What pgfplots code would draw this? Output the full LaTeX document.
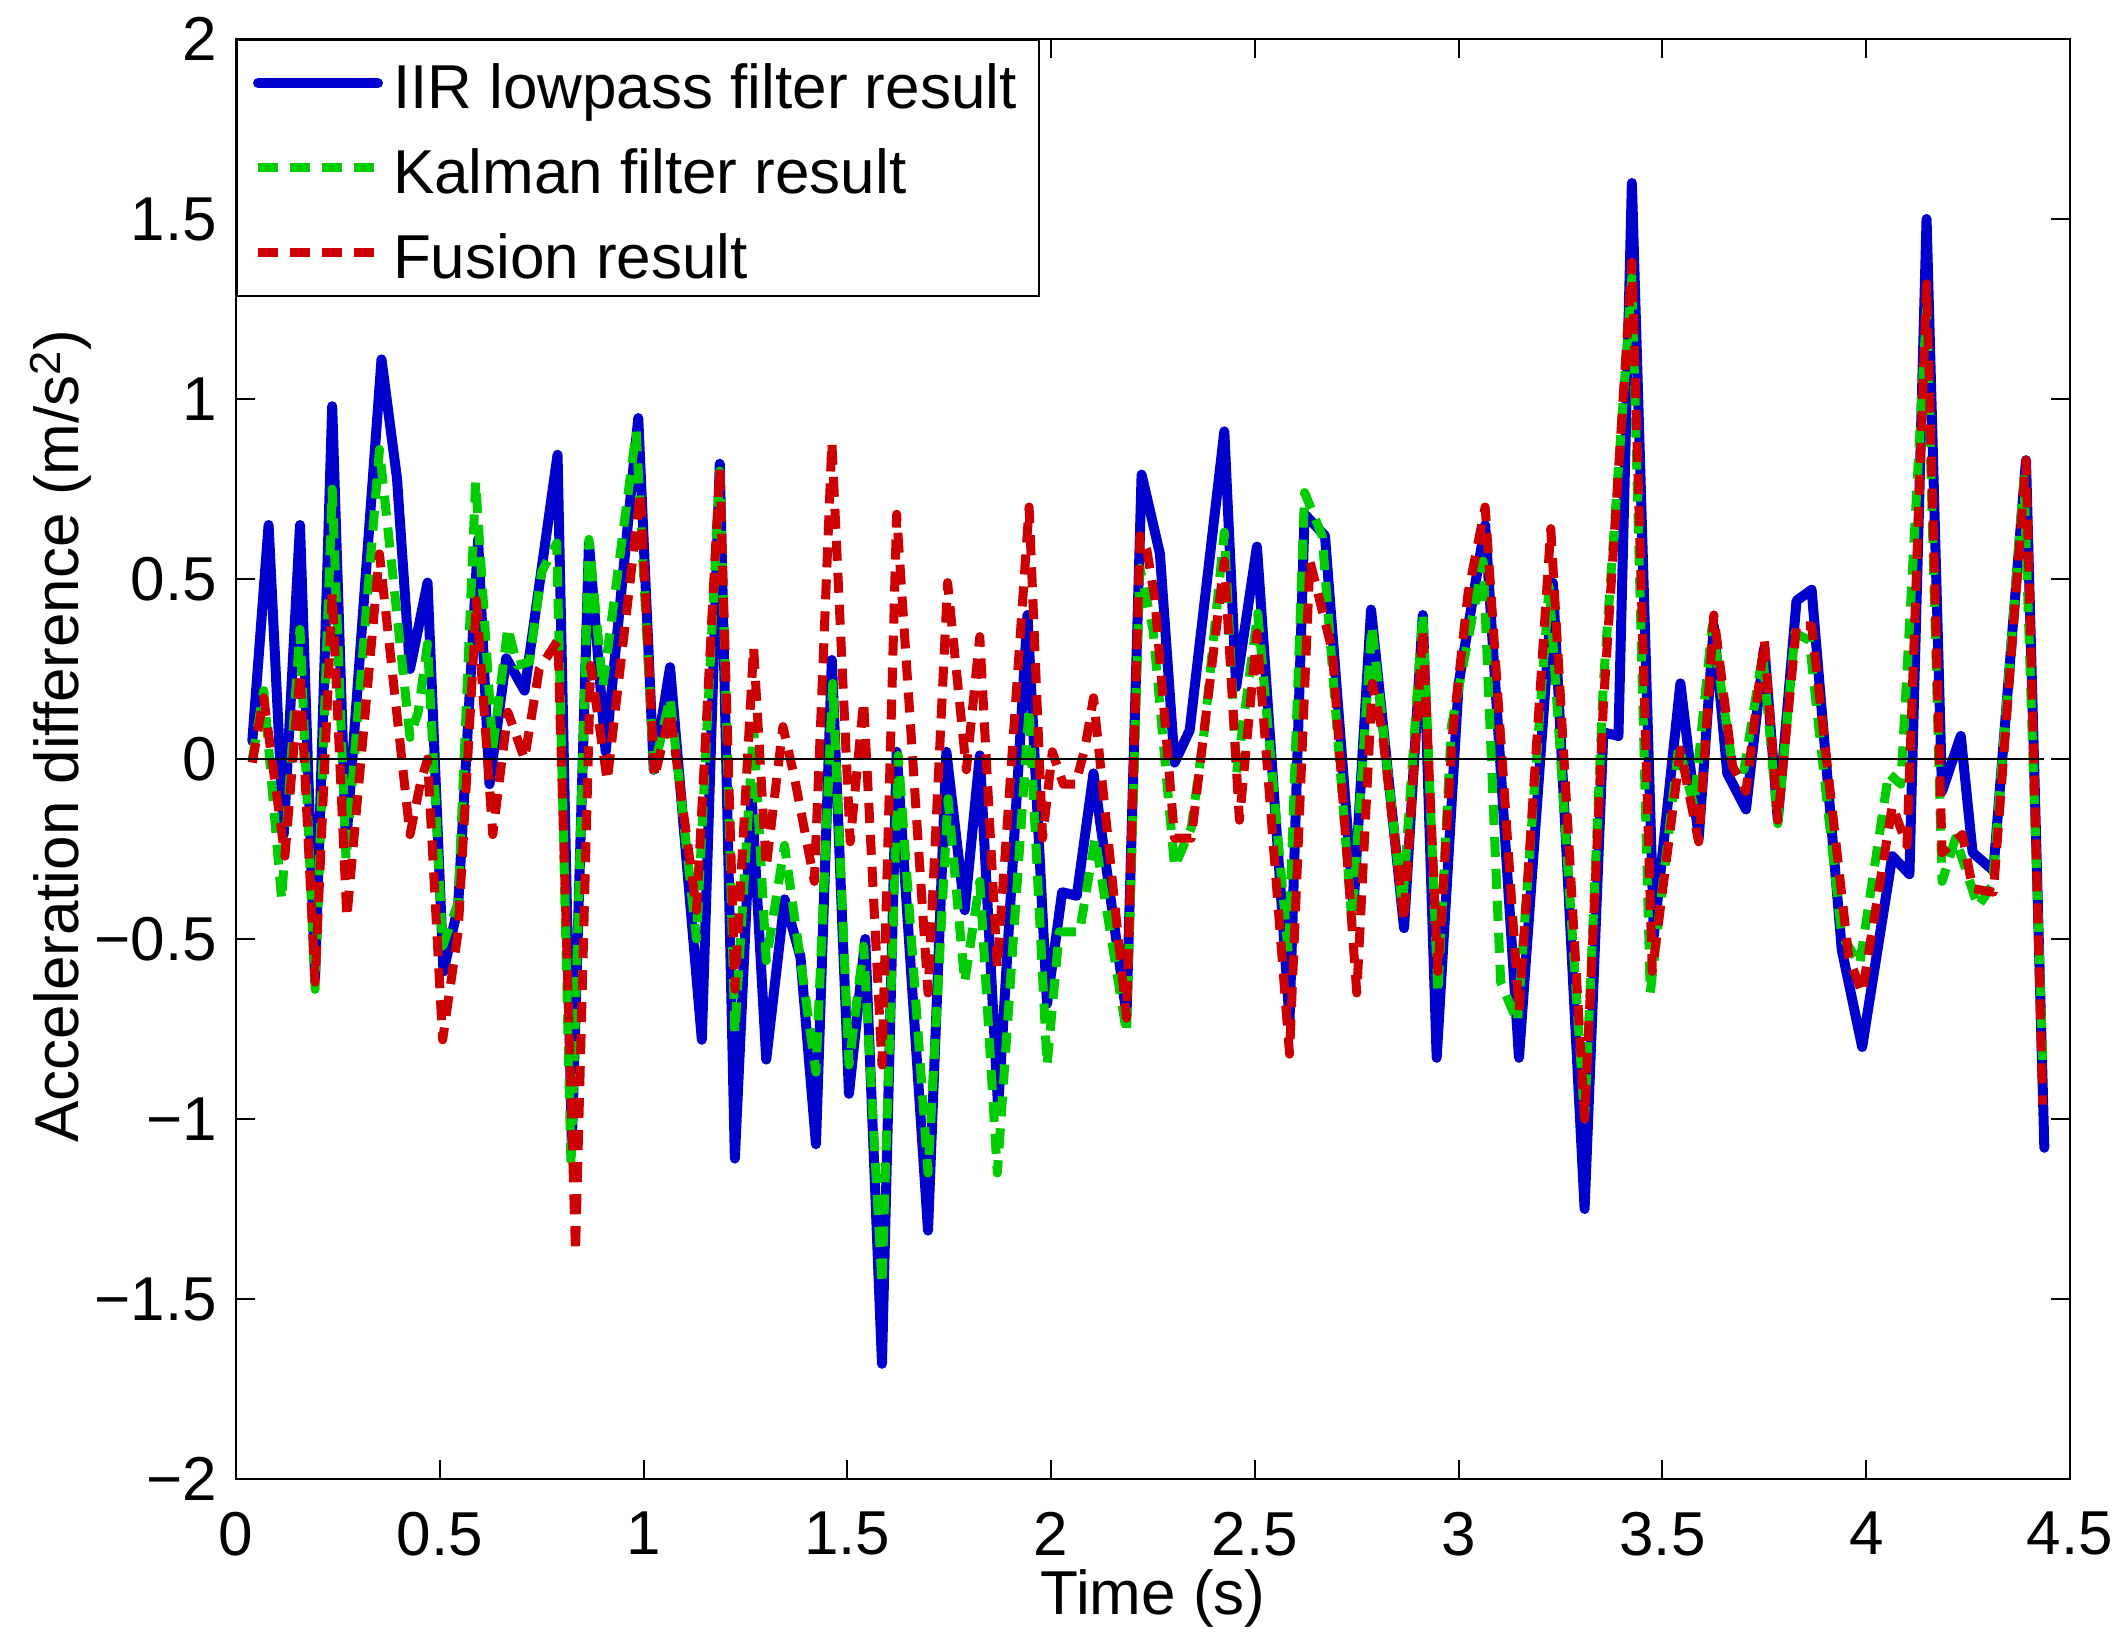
\documentclass[border=0pt]{standalone}
\usepackage{fontspec}
\setmainfont{Liberation Sans}
\usepackage{pgfplots}
\pgfplotsset{compat=1.18}
\definecolor{mblue}{RGB}{0,0,204}
\definecolor{mgreen}{RGB}{0,204,0}
\definecolor{mred}{RGB}{204,0,0}

\pgfplotstableread{
t v
0.04 0.05
0.08 0.65
0.117 -0.21
0.157 0.65
0.194 -0.61
0.236 0.98
0.27 -0.24
0.357 1.11
0.395 0.78
0.427 0.25
0.47 0.49
0.509 -0.59
0.545 -0.41
0.594 0.61
0.622 -0.07
0.663 0.28
0.708 0.19
0.789 0.845
0.824 -1.07
0.866 0.6
0.907 0.02
0.987 0.947
1.025 -0.03
1.065 0.255
1.143 -0.78
1.187 0.82
1.224 -1.11
1.265 -0.1
1.301 -0.835
1.346 -0.39
1.385 -0.55
1.423 -1.07
1.462 0.275
1.504 -0.93
1.544 -0.5
1.585 -1.68
1.621 0.02
1.698 -1.31
1.743 0.02
1.788 -0.42
1.825 0.01
1.87 -0.97
1.942 0.40
1.99 -0.68
2.027 -0.37
2.063 -0.38
2.104 -0.04
2.185 -0.71
2.222 0.79
2.267 0.57
2.303 -0.01
2.34 0.08
2.425 0.91
2.454 0.2
2.505 0.59
2.585 -0.725
2.622 0.68
2.672 0.62
2.742 -0.41
2.785 0.415
2.866 -0.47
2.912 0.40
2.946 -0.83
3.0 0.21
3.065 0.65
3.148 -0.83
3.231 0.49
3.309 -1.25
3.355 0.074
3.392 0.064
3.425 1.6
3.479 -0.49
3.544 0.21
3.589 -0.22
3.626 0.37
3.659 -0.04
3.705 -0.14
3.75 0.31
3.783 -0.17
3.829 0.44
3.866 0.47
3.94 -0.53
3.99 -0.8
4.064 -0.27
4.106 -0.32
4.148 1.5
4.186 -0.09
4.232 0.064
4.261 -0.26
4.312 -0.31
4.392 0.83
4.437 -1.08
}\iirdata

\pgfplotstableread{
t v
0.04 0.0
0.068 0.19
0.112 -0.39
0.157 0.36
0.194 -0.64
0.236 0.75
0.27 -0.28
0.352 0.86
0.427 0.06
0.447 0.13
0.47 0.32
0.507 -0.52
0.545 -0.4
0.588 0.77
0.63 0.03
0.667 0.365
0.69 0.26
0.72 0.27
0.75 0.52
0.787 0.6
0.822 -1.13
0.866 0.61
0.9 0.2
0.982 0.91
1.025 -0.03
1.065 0.17
1.13 -0.5
1.187 0.8
1.224 -0.76
1.27 0.09
1.301 -0.56
1.346 -0.24
1.423 -0.87
1.464 0.21
1.504 -0.85
1.54 -0.52
1.585 -1.46
1.625 0.01
1.698 -1.15
1.747 -0.11
1.788 -0.62
1.825 -0.34
1.868 -1.15
1.946 0.14
1.99 -0.85
2.02 -0.48
2.07 -0.48
2.108 -0.22
2.185 -0.76
2.218 0.53
2.25 0.36
2.303 -0.3
2.344 -0.19
2.376 0.08
2.425 0.63
2.455 -0.04
2.507 0.405
2.582 -0.54
2.622 0.74
2.665 0.62
2.738 -0.45
2.787 0.37
2.862 -0.41
2.912 0.405
2.949 -0.65
2.982 0.09
3.06 0.55
3.103 -0.62
3.144 -0.73
3.222 0.48
3.309 -1.0
3.355 0.21
3.425 1.34
3.47 -0.65
3.54 0.035
3.577 -0.13
3.622 0.37
3.672 -0.02
3.7 -0.03
3.746 0.29
3.783 -0.18
3.825 0.35
3.86 0.33
3.94 -0.49
3.984 -0.57
4.055 -0.04
4.085 -0.07
4.148 1.25
4.186 -0.34
4.219 -0.22
4.274 -0.41
4.31 -0.35
4.387 0.78
4.433 -0.84
}\kalmandata

\pgfplotstableread{
t v
0.04 -0.01
0.068 0.17
0.12 -0.27
0.157 0.24
0.194 -0.62
0.236 0.46
0.272 -0.44
0.352 0.57
0.427 -0.21
0.452 -0.07
0.47 0.0
0.507 -0.78
0.545 -0.48
0.59 0.44
0.63 -0.21
0.667 0.13
0.708 0.0
0.744 0.25
0.79 0.33
0.833 -1.37
0.87 0.26
0.911 -0.06
0.992 0.74
1.027 -0.05
1.065 0.13
1.13 -0.42
1.187 0.81
1.224 -0.64
1.27 0.31
1.301 -0.3
1.342 0.09
1.37 -0.05
1.419 -0.34
1.462 0.88
1.507 -0.23
1.54 0.16
1.585 -0.85
1.621 0.68
1.698 -0.65
1.746 0.49
1.792 -0.03
1.825 0.34
1.868 -0.58
1.946 0.70
1.979 -0.22
2.003 0.02
2.03 -0.07
2.06 -0.07
2.083 0.03
2.104 0.17
2.185 -0.72
2.218 0.62
2.235 0.58
2.254 0.45
2.303 -0.22
2.344 -0.22
2.425 0.55
2.462 -0.17
2.505 0.35
2.585 -0.82
2.635 0.55
2.69 0.3
2.75 -0.65
2.788 0.21
2.812 0.08
2.866 -0.45
2.912 0.36
2.949 -0.59
2.985 0.07
3.023 0.46
3.065 0.70
3.148 -0.7
3.226 0.64
3.309 -1.0
3.355 0.15
3.425 1.38
3.475 -0.59
3.544 0.025
3.589 -0.23
3.626 0.40
3.672 -0.02
3.705 -0.09
3.75 0.33
3.783 -0.17
3.829 0.37
3.866 0.37
3.957 -0.55
3.99 -0.65
4.064 -0.13
4.1 -0.24
4.148 1.32
4.186 -0.26
4.236 -0.21
4.261 -0.36
4.312 -0.37
4.392 0.83
4.433 -0.96
}\fusiondata

\begin{document}
\fontsize{31}{36}\selectfont
\begin{tikzpicture}
\begin{axis}[
  scale only axis, width=917pt, height=720pt,
  xmin=0, xmax=4.5, ymin=-2, ymax=2,
  xtick={0,0.5,1,1.5,2,2.5,3,3.5,4,4.5},
  ytick={-2,-1.5,-1,-0.5,0,0.5,1,1.5,2},
  xticklabels={0,0.5,1,1.5,2,2.5,3,3.5,4,4.5},
  yticklabels={−2,−1.5,−1,−0.5,0,0.5,1,1.5,2},
  tick align=inside, major tick length=9.5pt,
  tick style={black, line width=1pt},
  axis line style={line width=1.1pt},
  ticklabel style={font=\fontsize{31}{36}\selectfont},
  xticklabel style={yshift=-6pt},
  yticklabel style={xshift=1pt},
  xlabel={Time (s)},
  ylabel={Acceleration difference (m/s\textsuperscript{2})},
  label style={font=\fontsize{31}{36}\selectfont},
  xlabel style={at={([yshift=-59.5pt]rel axis cs:0.5,0)}, anchor=center},
  ylabel style={at={([xshift=-87.5pt,yshift=11.5pt]rel axis cs:0,0.5)}, anchor=center},
  legend cell align=left,
  legend image code/.code={\draw[#1] (0pt,0pt) -- (60pt,0pt);},
  legend style={at={(rel axis cs:0,1)}, anchor=north west, draw=black, line width=1pt, fill=white,
    font=\fontsize{31}{36}\selectfont, inner xsep=8pt, inner ysep=4.5pt, row sep=8.2pt,
    column sep=2pt,
    nodes={inner sep=3pt, text height=27pt, text depth=1.2pt}},
]
\addplot[color=mblue, line width=5pt, line join=round, line cap=round] table[x=t,y=v] {\iirdata};
\addlegendentry{IIR lowpass filter result}
\addplot[color=mgreen, line width=4.5pt, dash pattern=on 10pt off 6pt, line join=round] table[x=t,y=v] {\kalmandata};
\addlegendentry{Kalman filter result}
\addplot[color=mred, line width=4.5pt, dash pattern=on 10pt off 6pt, line join=round] table[x=t,y=v] {\fusiondata};
\addlegendentry{Fusion result}
\addplot[black, line width=0.8pt, forget plot] coordinates {(0,0) (4.437,0)};
\coordinate (SW) at (rel axis cs:0,0);
\coordinate (NE) at (rel axis cs:1,1);
\end{axis}
\pgfresetboundingbox
\path ([shift={(-118pt,-81.5pt)}]SW) rectangle ([shift={(26pt,19.5pt)}]NE);
\end{tikzpicture}
\end{document}
